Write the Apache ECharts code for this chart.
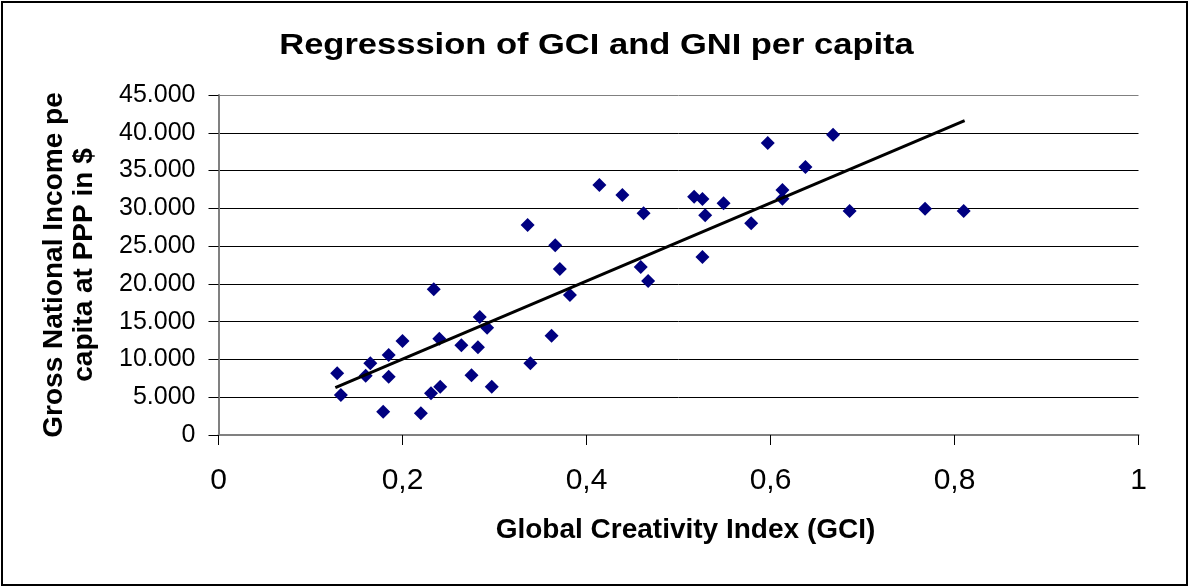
<!DOCTYPE html>
<html>
<head>
<meta charset="utf-8">
<script src="https://cdn.jsdelivr.net/npm/echarts@6/dist/echarts.min.js"></script>
<style>
  html, body { margin: 0; padding: 0; background: #fff; }
  #chart { width: 1189px; height: 588px; }
</style>
</head>
<body>
<div id="chart"></div>
<script>
// Global Creativity Index per country
const gci = [0.129, 0.133, 0.160, 0.165, 0.185, 0.185, 0.179, 0.200, 0.220, 0.231,
             0.241, 0.234, 0.240, 0.264, 0.275, 0.282, 0.284, 0.292, 0.297, 0.336,
             0.339, 0.362, 0.366, 0.371, 0.382, 0.414, 0.439, 0.462, 0.459, 0.467,
             0.517, 0.526, 0.529, 0.526, 0.549, 0.579, 0.597, 0.613, 0.613, 0.638,
             0.668, 0.686, 0.768, 0.810];
// Gross National Income per capita at PPP ($), same order
const gni = [8170, 5290, 7850, 9490, 10590, 7720, 3080, 12440, 2870, 5520,
             6390, 19280, 12750, 11870, 7900, 11610, 15620, 14200, 6390, 27790,
             9490, 13140, 25110, 21970, 18530, 33090, 31770, 29340, 22240, 20380,
             31540, 31240, 29080, 23560, 30670, 28020, 38650, 32430, 31280, 35470,
             39750, 29650, 29950, 29650];
// Linear trend line end points [GCI, GNI]
const trendStart = [0.127, 6260];
const trendEnd = [0.811, 41600];

const yTicks = [0, 5000, 10000, 15000, 20000, 25000, 30000, 35000, 40000, 45000];
const xTicks = [0, 0.2, 0.4, 0.6, 0.8, 1];

const FONT = '"Liberation Sans", Arial, sans-serif';
const points = gci.map((x, i) => [x, gni[i]]);

const chart = echarts.init(document.getElementById('chart'), null, { renderer: 'canvas' });

// grid lines: black, the top one grey like the plot frame
const splitColors = yTicks.map((v, i) => (i === yTicks.length - 1 ? '#808080' : '#000000'));

chart.setOption({
  animation: false,
  backgroundColor: '#ffffff',
  graphic: [
    {
      type: 'rect',
      shape: { x: 2, y: 2, width: 1185, height: 583 },
      style: { fill: 'none', stroke: '#000', lineWidth: 2 },
      silent: true
    },
    {
      type: 'text',
      x: 596.5,
      y: 46,
      scaleX: 1.15,
      style: {
        text: 'Regresssion of GCI and GNI per capita',
        fontFamily: FONT,
        fontWeight: 'bold',
        fontSize: 30,
        fill: '#000',
        textAlign: 'center',
        textVerticalAlign: 'middle'
      }
    }
  ],
  grid: { left: 218.5, top: 95, width: 920, height: 340, containLabel: false },
  xAxis: {
    type: 'value',
    min: xTicks[0],
    max: xTicks[xTicks.length - 1],
    interval: 0.2,
    name: 'Global Creativity Index (GCI)',
    nameLocation: 'middle',
    nameGap: 81,
    nameTextStyle: {
      fontFamily: FONT, fontWeight: 'bold', fontSize: 28, color: '#000',
      padding: [0, 0, 0, 14]
    },
    axisLine: { show: true, onZero: false, lineStyle: { color: '#808080', width: 2 } },
    axisTick: { show: true, inside: false, length: 10, lineStyle: { color: '#000', width: 1 } },
    axisLabel: {
      margin: 31,
      fontFamily: FONT, fontSize: 30, color: '#000',
      formatter: v => String(Math.round(v * 10) / 10).replace('.', ',')
    },
    splitLine: { show: false }
  },
  yAxis: {
    type: 'value',
    min: yTicks[0],
    max: yTicks[yTicks.length - 1],
    interval: 5000,
    name: 'Gross National Income pe\ncapita at PPP in $',
    nameLocation: 'middle',
    nameRotate: 90,
    nameGap: 119,
    nameTextStyle: {
      fontFamily: FONT, fontWeight: 'bold', fontSize: 28, lineHeight: 30, color: '#000'
    },
    axisLine: { show: true, onZero: false, lineStyle: { color: '#808080', width: 2 } },
    axisTick: { show: true, inside: false, length: 10, lineStyle: { color: '#000', width: 1 } },
    axisLabel: {
      margin: 23,
      fontFamily: FONT, fontSize: 25, color: '#000',
      padding: [0, 0, 5, 0],
      formatter: v => (v === 0 ? '0' : (v / 1000).toFixed(0) + '.000')
    },
    splitLine: { show: true, lineStyle: { color: splitColors, width: 1 } }
  },
  series: [
    {
      name: 'GNI vs GCI',
      type: 'scatter',
      symbol: 'diamond',
      symbolSize: 14,
      itemStyle: { color: '#000080', opacity: 1 },
      data: points,
      z: 3
    },
    {
      name: 'Linear trend',
      type: 'line',
      data: [trendStart, trendEnd],
      symbol: 'none',
      lineStyle: { color: '#000', width: 3 },
      z: 4
    }
  ]
});
</script>
</body>
</html>
